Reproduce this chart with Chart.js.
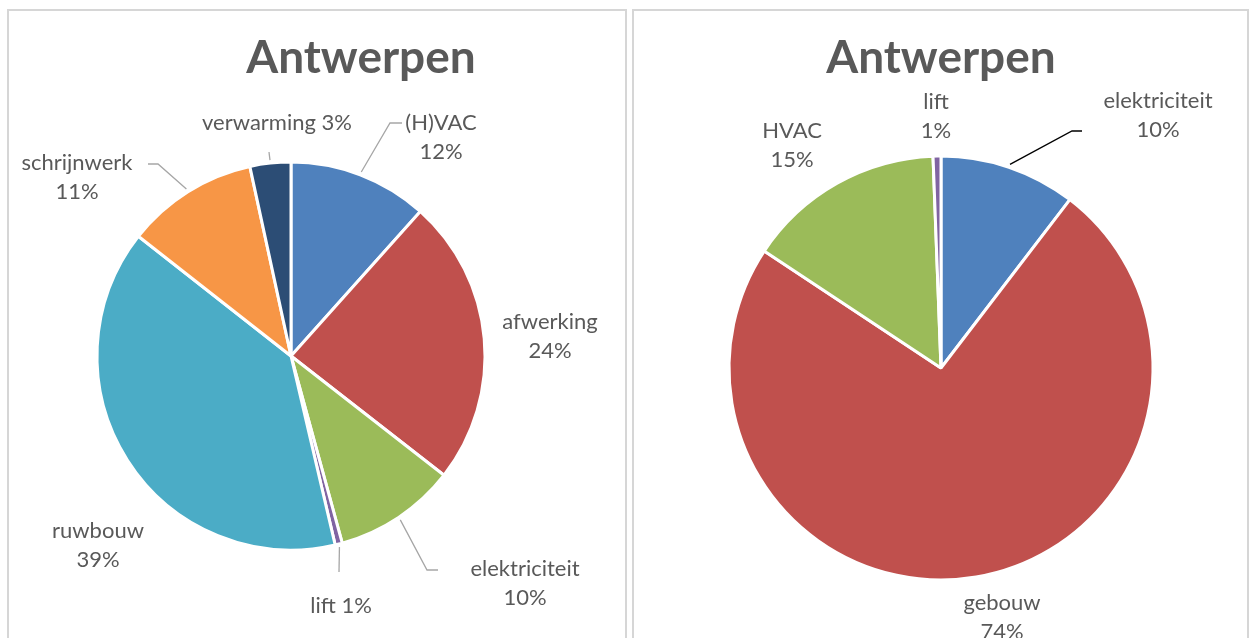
<!DOCTYPE html>
<html>
<head>
<meta charset="utf-8">
<script src="https://cdn.jsdelivr.net/npm/chart.js@4.4.0/dist/chart.umd.min.js"></script>
<style>
    body { margin: 0; background: #fff; width: 1252px; height: 638px; overflow: hidden; position: relative; }
    .panel { position: absolute; top: 9px; height: 640px; border: 2px solid #d6d6d6; box-sizing: border-box; }
    #panelLeft { left: 7px; width: 620px; }
    #panelRight { left: 632px; width: 617px; }
    canvas { position: absolute; left: 0; top: 0; }
    .title { position: absolute; top: 33px; font: bold 46px Lato, sans-serif; line-height: 46px; color: #595959; transform: translateX(-50%); white-space: nowrap; z-index: 5; }
</style>
</head>
<body>
<div class="panel" id="panelLeft"></div>
<div class="panel" id="panelRight"></div>
<canvas id="leftPie" width="1252" height="638"></canvas>
<canvas id="rightPie" width="1252" height="638"></canvas>
<div class="title" id="leftTitle" style="left:361px"></div>
<div class="title" id="rightTitle" style="left:941px"></div>

<script>
const chartTitles = ['Antwerpen', 'Antwerpen'];

const leftCategories = ['(H)VAC', 'afwerking', 'elektriciteit', 'lift', 'ruwbouw', 'schrijnwerk', 'verwarming'];
const leftShares = [11.6, 23.9, 10.2, 0.6, 39.2, 11.0, 3.4];

const rightCategories = ['elektriciteit', 'gebouw', 'HVAC', 'lift'];
const rightShares = [10.4, 73.9, 15.1, 0.6];

const officeColors = ['#4F81BD', '#C0504D', '#9BBB59', '#8064A2', '#4BACC6', '#F79646', '#2C4D75'];

// label placement, relative to the pie centre (px)
const leftPlacement = [
    { dx: 150, dy: -219, leader: [[99, -233], [111, -233]] },
    { dx: 259, dy: -20 },
    { dx: 234, dy: 227, leader: [[136, 214], [147, 214]] },
    { dx: 50, dy: 250, oneLine: true, leader: [[48, 216]] },
    { dx: -193, dy: 189 },
    { dx: -214, dy: -179, leader: [[-133, -192], [-143, -192]] },
    { dx: -14, dy: -233, oneLine: true, leader: [[-22, -204]] }
];

const rightPlacement = [
    { dx: 217, dy: -253, leader: [[131, -237], [141, -237]] },
    { dx: 61, dy: 249 },
    { dx: -149, dy: -223 },
    { dx: -5, dy: -252 }
];

document.getElementById('leftTitle').textContent = chartTitles[0];
document.getElementById('rightTitle').textContent = chartTitles[1];

const pieLabels = {
    id: 'pieLabels',
    afterDatasetsDraw(chart, args, opts) {
        const ctx = chart.ctx;
        const arcs = chart.getDatasetMeta(0).data;
        const values = chart.data.datasets[0].data;
        const total = values.reduce((a, b) => a + b, 0);

        ctx.save();
        arcs.forEach((arc, i) => {
            const p = opts.place[i];
            const { x, y, startAngle, endAngle, outerRadius } =
                arc.getProps(['x', 'y', 'startAngle', 'endAngle', 'outerRadius'], true);
            const mid = (startAngle + endAngle) / 2;

            if (p.leader) {
                ctx.beginPath();
                ctx.moveTo(x + Math.cos(mid) * (outerRadius + 3), y + Math.sin(mid) * (outerRadius + 3));
                p.leader.forEach(pt => ctx.lineTo(x + pt[0], y + pt[1]));
                ctx.strokeStyle = opts.leaderColor;
                ctx.lineWidth = 1.3;
                ctx.stroke();
            }

            const name = chart.data.labels[i];
            const pct = Math.round(values[i] / total * 100) + '%';
            const lines = p.oneLine ? [name + ' ' + pct] : [name, pct];
            ctx.fillStyle = '#595959';
            ctx.font = '22px Lato, sans-serif';
            ctx.textAlign = 'center';
            ctx.textBaseline = 'middle';
            lines.forEach((t, k) => {
                ctx.fillText(t, x + p.dx, y + p.dy + (k - (lines.length - 1) / 2) * 29);
            });
        });
        ctx.restore();
    }
};

function renderPie(canvasId, labels, data, cx, cy, r, place, leaderColor) {
    const W = 1252, H = 638;
    const half = r + 8;
    const ctx = document.getElementById(canvasId).getContext('2d');
    return new Chart(ctx, {
        type: 'pie',
        data: {
            labels: labels,
            datasets: [{
                data: data,
                backgroundColor: officeColors.slice(0, data.length),
                borderColor: '#ffffff',
                borderWidth: 3,
                radius: r
            }]
        },
        options: {
            responsive: false,
            animation: false,
            devicePixelRatio: 1,
            layout: {
                padding: { left: cx - half, right: W - cx - half, top: cy - half, bottom: H - cy - half }
            },
            plugins: {
                legend: { display: false },
                tooltip: { enabled: false },
                pieLabels: { place: place, leaderColor: leaderColor }
            }
        },
        plugins: [pieLabels]
    });
}

renderPie('leftPie', leftCategories, leftShares, 291, 356, 194, leftPlacement, '#a6a6a6');
renderPie('rightPie', rightCategories, rightShares, 941, 368, 212, rightPlacement, '#000000');
</script>
</body>
</html>
